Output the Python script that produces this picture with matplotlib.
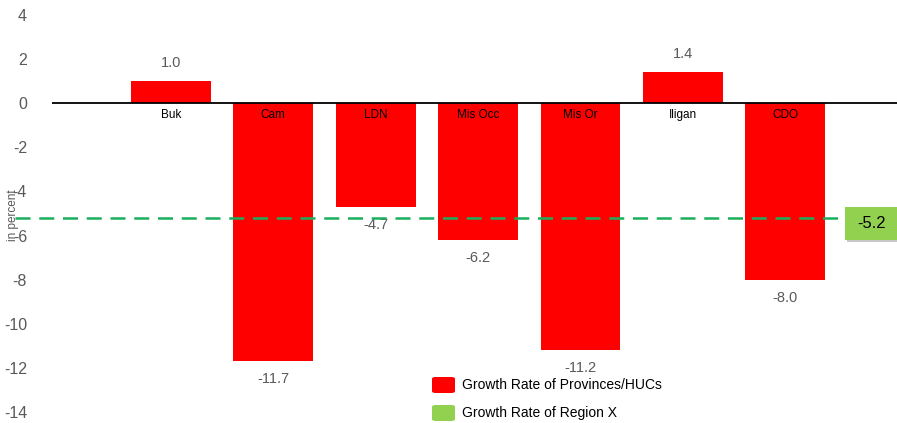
import numpy as np
import matplotlib
matplotlib.use('Agg')
import matplotlib.pyplot as plt
from matplotlib.patches import Rectangle, FancyBboxPatch

plt.rcParams['font.family'] = ['Liberation Sans', 'DejaVu Sans']
plt.rcParams['axes.unicode_minus'] = False

areas = ['Buk', 'Cam', 'LDN', 'Mis Occ', 'Mis Or', 'Iligan', 'CDO']
growth = [1.0, -11.7, -4.7, -6.2, -11.2, 1.4, -8.0]
region_rate = -5.2
legend_labels = ['Growth Rate of Provinces/HUCs', 'Growth Rate of Region X']

red = '#ff0000'
green = '#92d050'
dash_green = '#1aaf5d'
grey = '#595959'

fig = plt.figure(figsize=(8.97, 4.23), dpi=100)
ax = fig.add_axes([52 / 897, 11 / 423, 845 / 897, 397 / 423])

x = np.arange(len(areas))
ax.bar(x, growth, width=0.78, color=red, zorder=2)
ax.axhline(0, color='black', lw=1.3, zorder=3)

for xi, name, v in zip(x, areas, growth):
    ax.text(xi, -0.25, name, ha='center', va='top', fontsize=8.5, color='black', zorder=4)
    if v >= 0:
        ax.text(xi, v + 0.5, f'{v:.1f}', ha='center', va='bottom', fontsize=10.5, color=grey)
    else:
        ax.text(xi, v - 0.5, f'{v:.1f}', ha='center', va='top', fontsize=10.5, color=grey)

# regional average line
ax.axhline(region_rate, xmin=-0.044, xmax=0.938, color=dash_green, lw=1.8,
           ls=(0, (6, 3.5)), clip_on=False, zorder=3)
box = FancyBboxPatch((845 / 897, 183 / 423), 52 / 897, 33 / 423,
                     boxstyle='square,pad=0', transform=fig.transFigure,
                     fc=green, ec='none', zorder=5)
shadow = Rectangle((847 / 897, 181 / 423), 52 / 897, 33 / 423,
                   transform=fig.transFigure, fc='#c8c8c8', ec='none', zorder=4)
fig.patches.extend([shadow, box])
fig.text(872 / 897, 200 / 423, f'{region_rate:.1f}', ha='center', va='center',
         fontsize=12, color='black', zorder=6)

ax.set_xlim(-1.16, 7.09)
ax.set_ylim(-14, 4)
ax.set_yticks(np.arange(-14, 5, 2))
ax.tick_params(axis='y', length=0, labelsize=11.5, labelcolor=grey, pad=18)
ax.set_xticks([])
for s in ax.spines.values():
    s.set_visible(False)

fig.text(13 / 897, 208 / 423, 'in percent', rotation=90, ha='center', va='center',
         fontsize=8.5, color=grey)

# legend
for i, (lab, c) in enumerate(zip(legend_labels, [red, green])):
    yy = (423 - 385 - i * 28) / 423
    fig.patches.append(FancyBboxPatch((432 / 897, yy - 8 / 423), 23 / 897, 16 / 423,
                                      boxstyle='round,pad=0,rounding_size=0.004',
                                      transform=fig.transFigure, fc=c, ec='none'))
    fig.text(462 / 897, yy, lab, ha='left', va='center', fontsize=10, color='black')

fig.savefig('out.png', dpi=100)
